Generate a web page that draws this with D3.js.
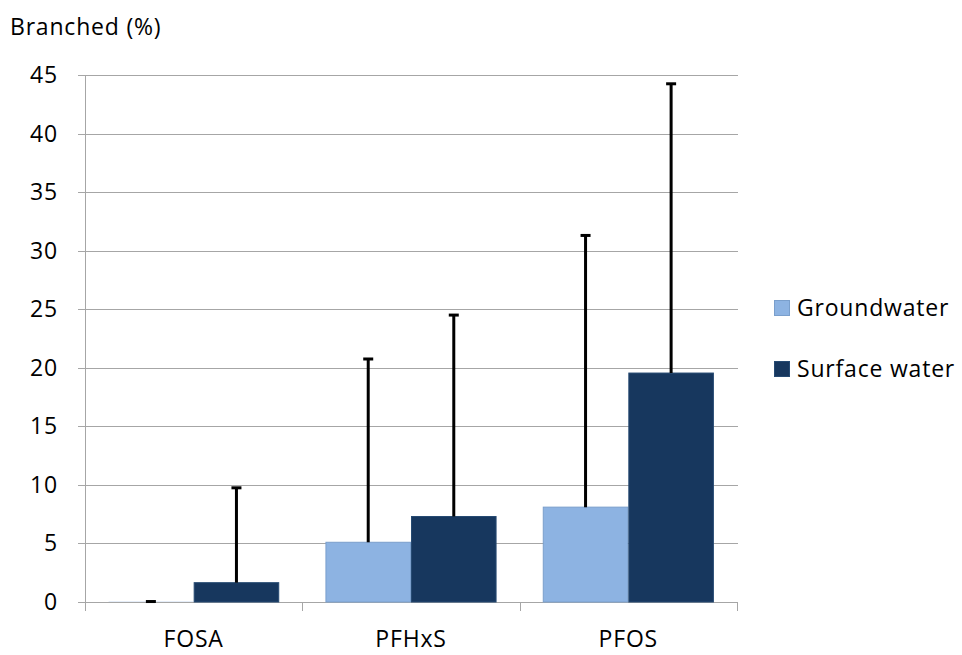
<!DOCTYPE html>
<html>
<head>
<meta charset="utf-8">
<script src="https://cdn.jsdelivr.net/npm/d3@7"></script>
<style>
  body { margin: 0; background: #fff; }
  text { font-family: "Open Sans", "Noto Sans", sans-serif; fill: #000; font-size: 23px; letter-spacing: 0.8px; }
</style>
</head>
<body>
<div id="chart"></div>
<script>
const categories = ['FOSA', 'PFHxS', 'PFOS'];
const seriesNames = ['Groundwater', 'Surface water'];
const groundwater = [0.02, 5.1, 8.1];
const groundwaterErr = [0.02, 15.65, 23.2];
const surfaceWater = [1.65, 7.3, 19.55];
const surfaceWaterErr = [8.1, 17.2, 24.7];
const yTicks = [0, 5, 10, 15, 20, 25, 30, 35, 40, 45];

const width = 962, height = 655,
    plotLeft = 85, plotRight = 737, plotTop = 75, plotBottom = 602,
    fills = ['#8db3e2', '#17375e'],
    strokes = ['#7a9fcc', '#264a72'];

const svg = d3.select('#chart').append('svg')
    .attr('width', width)
    .attr('height', height);

const x0 = d3.scaleBand().domain(categories).range([plotLeft, plotRight]).paddingInner(0).paddingOuter(0);
const x1 = d3.scaleBand().domain(seriesNames).range([0, x0.bandwidth()]).paddingInner(0).paddingOuter(0.27);
const y = d3.scaleLinear().domain([0, 45]).range([plotBottom, plotTop]);

// gridlines + y axis
svg.append('g')
    .selectAll('line')
    .data(yTicks)
    .join('line')
    .attr('x1', plotLeft - 7)
    .attr('x2', plotRight + 1)
    .attr('y1', d => Math.round(y(d)) + 0.5)
    .attr('y2', d => Math.round(y(d)) + 0.5)
    .attr('stroke', '#a6a6a6')
    .attr('stroke-width', 1);

svg.append('g')
    .selectAll('text')
    .data(yTicks)
    .join('text')
    .attr('x', 58)
    .attr('y', d => y(d))
    .attr('dy', '0.35em')
    .attr('text-anchor', 'end')
    .text(d => d);

svg.append('line')
    .attr('x1', plotLeft + 0.5).attr('x2', plotLeft + 0.5)
    .attr('y1', plotTop).attr('y2', plotBottom)
    .attr('stroke', '#a6a6a6');

// category ticks
const bounds = categories.map(c => x0(c)).concat([plotRight]);
svg.append('g')
    .selectAll('line')
    .data(bounds)
    .join('line')
    .attr('x1', d => Math.round(d) + 0.5)
    .attr('x2', d => Math.round(d) + 0.5)
    .attr('y1', plotBottom)
    .attr('y2', plotBottom + 9)
    .attr('stroke', '#a6a6a6');

svg.append('g')
    .selectAll('text')
    .data(categories)
    .join('text')
    .attr('x', d => x0(d) + x0.bandwidth() / 2)
    .attr('y', 647)
    .attr('text-anchor', 'middle')
    .text(d => d);

// bars
const rows = categories.map((c, i) => ({
    cat: c,
    vals: [
        {name: seriesNames[0], v: groundwater[i], e: groundwaterErr[i], k: 0},
        {name: seriesNames[1], v: surfaceWater[i], e: surfaceWaterErr[i], k: 1},
    ],
}));

const groups = svg.append('g')
    .selectAll('g')
    .data(rows)
    .join('g')
    .attr('transform', d => 'translate(' + x0(d.cat) + ',0)');

groups.selectAll('rect')
    .data(d => d.vals)
    .join('rect')
    .attr('x', d => x1(d.name) + 0.5)
    .attr('y', d => y(d.v))
    .attr('width', x1.bandwidth() - 1)
    .attr('height', d => Math.max(0, y(0) - y(d.v)))
    .attr('fill', d => fills[d.k])
    .attr('stroke', d => d.v > 0.2 ? strokes[d.k] : 'none')
    .attr('stroke-width', 1);

// error bars (plus only)
const errs = groups.selectAll('g.err')
    .data(d => d.vals)
    .join('g')
    .attr('class', 'err');

errs.append('line')
    .attr('x1', d => x1(d.name) + x1.bandwidth() / 2)
    .attr('x2', d => x1(d.name) + x1.bandwidth() / 2)
    .attr('y1', d => y(d.v))
    .attr('y2', d => y(d.v + d.e))
    .attr('stroke', '#000')
    .attr('stroke-width', 3);

errs.append('line')
    .attr('x1', d => x1(d.name) + x1.bandwidth() / 2 - 5)
    .attr('x2', d => x1(d.name) + x1.bandwidth() / 2 + 5)
    .attr('y1', d => y(d.v + d.e))
    .attr('y2', d => y(d.v + d.e))
    .attr('stroke', '#000')
    .attr('stroke-width', 3);

// y title
svg.append('text')
    .attr('x', 10)
    .attr('y', 35)
    .text('Branched (%)');

// legend
const legend = svg.append('g')
    .selectAll('g')
    .data(seriesNames)
    .join('g')
    .attr('transform', (d, i) => 'translate(774,' + (300 + i * 61) + ')');

legend.append('rect')
    .attr('x', 0.5).attr('y', 0.5)
    .attr('width', 15).attr('height', 15)
    .attr('fill', (d, i) => fills[i])
    .attr('stroke', (d, i) => strokes[i]);

legend.append('text')
    .attr('x', 23)
    .attr('y', 8)
    .attr('dy', '0.35em')
    .text(d => d);
</script>
</body>
</html>
